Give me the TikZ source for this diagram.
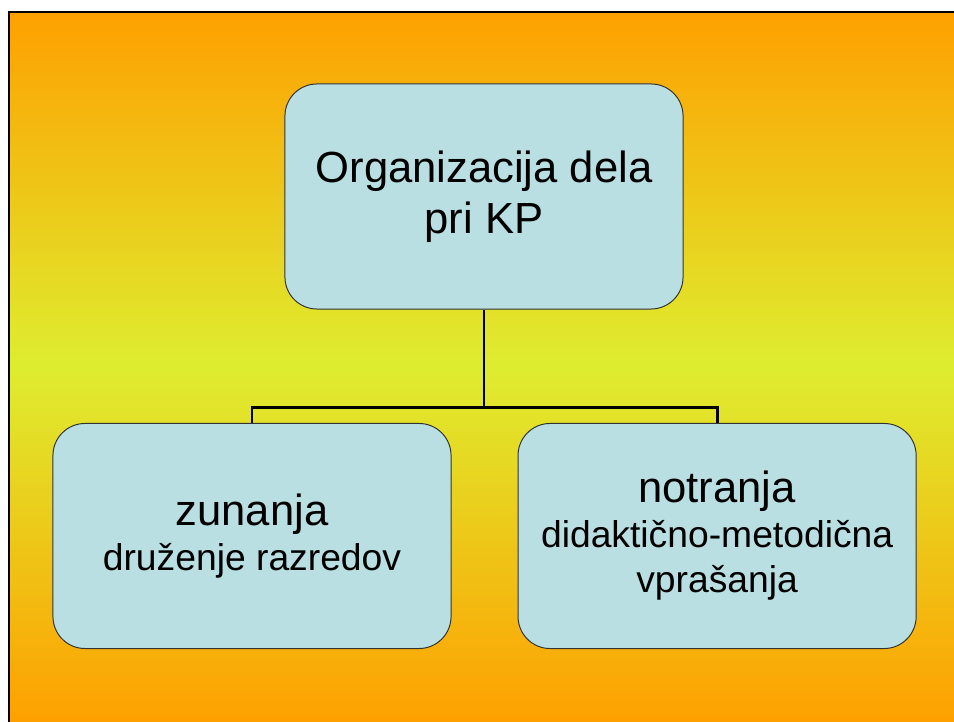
\documentclass[tikz,border=0pt]{standalone}
\usepackage{fontspec}
\setmainfont{Liberation Sans}
\usepackage{tikz}
\usetikzlibrary{positioning,calc}
\definecolor{kporange}{RGB}{254,160,0}
\definecolor{kpyellow}{RGB}{222,237,48}
\definecolor{kpblue}{RGB}{185,223,226}

\begin{document}
\begin{tikzpicture}[x=0.025cm,y=0.025cm,
		kpbox/.style={draw=black!80,fill=kpblue,line width=0.7pt,rounded corners=0.8cm,minimum width=9.95cm,minimum height=5.625cm,align=center,inner sep=0pt},
		kpline/.style={line width=2.1pt}]
		\useasboundingbox (0,0) rectangle (954,722);
		\foreach \i in {0,...,141}{
			\pgfmathsetmacro{\kpmix}{100-abs(\i*5+2.5-355)/355*100}
			\fill[kpyellow!\kpmix!kporange] (9,\i*5) rectangle (954,\i*5+5.6);
		}
		\draw[line width=1.4pt] (9,0)--(9,710)--(954,710);
		
		\node[kpbox,font=\fontsize{31}{36.3}\selectfont] (org) at (484,525.5) {Organizacija dela\\pri KP};
		\node[kpbox,font=\fontsize{26.5}{32}\selectfont] (zun) at (252,186) {{\fontsize{31}{36}\selectfont zunanja}\\druženje razredov};
		\node[kpbox,font=\fontsize{26.5}{32}\selectfont,right=1.65cm of zun] (notr) {{\fontsize{31}{36}\selectfont notranja}\\didaktično-metodična\\vprašanja};
		
		\coordinate[shift={(0,-98)}] (bus) at (org.south);
		\draw[kpline] (org.south)--(bus);
		\draw[kpline] (zun.north)|-(bus)-|(notr.north);
	\end{tikzpicture}
\end{document}
